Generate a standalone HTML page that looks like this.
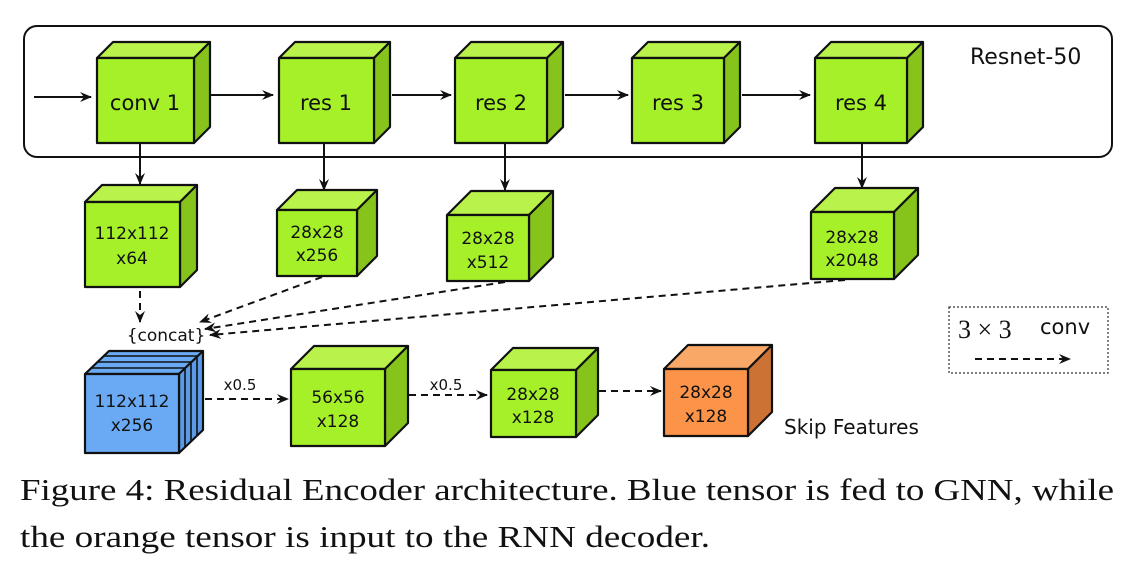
<!DOCTYPE html>
<html><head><meta charset="utf-8"><style>
html,body{margin:0;padding:0;background:#fff;}
svg{display:block}
.s{font-family:"DejaVu Sans","Liberation Sans",sans-serif;fill:#111}
</style></head><body>
<svg width="1140" height="570" viewBox="0 0 1140 570" xmlns="http://www.w3.org/2000/svg">
<defs>
<marker id="a" markerWidth="12" markerHeight="10" refX="11" refY="5" orient="auto" markerUnits="userSpaceOnUse">
<path d="M0,0 L12,5 L0,10 L4,5 Z" fill="#111"/></marker>
</defs>
<rect x="24" y="26" width="1088" height="131" rx="13" fill="none" stroke="#111" stroke-width="2"/>
<g stroke="#111" stroke-width="2" fill="none">
<line x1="34" y1="97" x2="91" y2="97" marker-end="url(#a)"/>
<line x1="211" y1="95" x2="273" y2="95" marker-end="url(#a)"/>
<line x1="392" y1="95" x2="451" y2="95" marker-end="url(#a)"/>
<line x1="565" y1="95" x2="628" y2="95" marker-end="url(#a)"/>
<line x1="742" y1="95" x2="810" y2="95" marker-end="url(#a)"/>
<line x1="140" y1="143" x2="140" y2="184" marker-end="url(#a)"/>
<line x1="324" y1="143" x2="324" y2="190" marker-end="url(#a)"/>
<line x1="505" y1="143" x2="505" y2="190" marker-end="url(#a)"/>
<line x1="862" y1="143" x2="862" y2="188" marker-end="url(#a)"/>
</g>
<g stroke="#111" stroke-width="2" fill="none" stroke-dasharray="7,5">
<line x1="140" y1="291" x2="140" y2="322" marker-end="url(#a)"/>
<line x1="322" y1="277" x2="200" y2="322" marker-end="url(#a)"/>
<line x1="505" y1="282" x2="205" y2="329" marker-end="url(#a)"/>
<line x1="845" y1="280" x2="210" y2="335" marker-end="url(#a)"/>
<line x1="205" y1="399" x2="288" y2="399" marker-end="url(#a)"/>
<line x1="409" y1="395" x2="487" y2="395" marker-end="url(#a)"/>
<line x1="599" y1="391" x2="661" y2="391" marker-end="url(#a)"/>
<line x1="975" y1="359" x2="1070" y2="359" marker-end="url(#a)"/>
</g>
<rect x="949" y="307" width="159" height="66" fill="none" stroke="#333" stroke-width="1.2" stroke-dasharray="2,2"/>

<g stroke="#111" stroke-width="2.2" stroke-linejoin="round">
<polygon points="97,58 113,42 210,42 194,58" fill="#b8f24a"/><polygon points="194,58 210,42 210,127 194,143" fill="#86c41c"/><rect x="97" y="58" width="97" height="85" fill="#a6f02a"/>
<polygon points="279,58 295,42 390,42 374,58" fill="#b8f24a"/><polygon points="374,58 390,42 390,127 374,143" fill="#86c41c"/><rect x="279" y="58" width="95" height="85" fill="#a6f02a"/>
<polygon points="455,58 471,42 563,42 547,58" fill="#b8f24a"/><polygon points="547,58 563,42 563,127 547,143" fill="#86c41c"/><rect x="455" y="58" width="92" height="85" fill="#a6f02a"/>
<polygon points="632,58 648,42 740,42 724,58" fill="#b8f24a"/><polygon points="724,58 740,42 740,127 724,143" fill="#86c41c"/><rect x="632" y="58" width="92" height="85" fill="#a6f02a"/>
<polygon points="815,58 831,42 923,42 907,58" fill="#b8f24a"/><polygon points="907,58 923,42 923,127 907,143" fill="#86c41c"/><rect x="815" y="58" width="92" height="85" fill="#a6f02a"/>
<polygon points="85,202 102,185 197,185 180,202" fill="#b8f24a"/><polygon points="180,202 197,185 197,270 180,287" fill="#86c41c"/><rect x="85" y="202" width="95" height="85" fill="#a6f02a"/>
<polygon points="277,210 297,190 377,190 357,210" fill="#b8f24a"/><polygon points="357,210 377,190 377,256 357,276" fill="#86c41c"/><rect x="277" y="210" width="80" height="66" fill="#a6f02a"/>
<polygon points="447,215 471,191 553,191 529,215" fill="#b8f24a"/><polygon points="529,215 553,191 553,257 529,281" fill="#86c41c"/><rect x="447" y="215" width="82" height="66" fill="#a6f02a"/>
<polygon points="811,212 835,188 918,188 894,212" fill="#b8f24a"/><polygon points="894,212 918,188 918,255 894,279" fill="#86c41c"/><rect x="811" y="212" width="83" height="67" fill="#a6f02a"/>
<!-- blue sliced cube -->
<polygon points="85,374 109,351 203,351 179,374" fill="#6aaaf4"/>
<polygon points="179,374 203,351 203,430 179,453" fill="#5a9ae6"/>
<rect x="85" y="374" width="94" height="79" fill="#6aaaf4"/>
</g>
<g stroke="#111" stroke-width="1.6">
<line x1="91" y1="368" x2="185" y2="368"/><line x1="185" y1="368" x2="185" y2="447"/>
<line x1="97" y1="362" x2="191" y2="362"/><line x1="191" y1="362" x2="191" y2="441"/>
<line x1="103" y1="356" x2="197" y2="356"/><line x1="197" y1="356" x2="197" y2="435"/>
</g>
<g stroke="#111" stroke-width="2.2" stroke-linejoin="round">
<polygon points="291,369 314,346 408,346 385,369" fill="#b8f24a"/><polygon points="385,369 408,346 408,423 385,446" fill="#86c41c"/><rect x="291" y="369" width="94" height="77" fill="#a6f02a"/>
<polygon points="491,370 513,348 598,348 576,370" fill="#b8f24a"/><polygon points="576,370 598,348 598,415 576,437" fill="#86c41c"/><rect x="491" y="370" width="85" height="67" fill="#a6f02a"/>
<polygon points="664,369 688,345 772,345 748,369" fill="#f9a868"/><polygon points="748,369 772,345 772,412 748,436" fill="#cc7235"/><rect x="664" y="369" width="84" height="67" fill="#fb9348"/>
</g>

<g class="s" text-anchor="middle">
<text x="145" y="110" font-size="21">conv 1</text>
<text x="326" y="110" font-size="21">res 1</text>
<text x="501" y="110" font-size="21">res 2</text>
<text x="678" y="110" font-size="21">res 3</text>
<text x="861" y="110" font-size="21">res 4</text>
<g font-size="17">
<text x="132" y="239">112x112</text><text x="132" y="264">x64</text>
<text x="317" y="238">28x28</text><text x="317" y="261">x256</text>
<text x="488" y="244">28x28</text><text x="488" y="268">x512</text>
<text x="852" y="243">28x28</text><text x="852" y="266">x2048</text>
<text x="132" y="407">112x112</text><text x="132" y="431">x256</text>
<text x="338" y="403">56x56</text><text x="338" y="427">x128</text>
<text x="533" y="400">28x28</text><text x="533" y="423">x128</text>
<text x="706" y="398">28x28</text><text x="706" y="422">x128</text>
<text x="166" y="341">{concat}</text>
</g>
<text x="240" y="390" font-size="15">x0.5</text>
<text x="446" y="390" font-size="15">x0.5</text>
</g>
<text class="s" x="970" y="64" font-size="22">Resnet-50</text>
<text class="s" x="784" y="434" font-size="20">Skip Features</text>
<text x="958" y="338" font-size="26" font-family="Liberation Serif,serif" fill="#111">3 × 3</text>
<text class="s" x="1040" y="334" font-size="21">conv</text>
<g font-family="Liberation Serif,serif" font-size="31" fill="#111">
<text x="20" y="500" textLength="1094" lengthAdjust="spacingAndGlyphs">Figure 4: Residual Encoder architecture. Blue tensor is fed to GNN, while</text>
<text x="20" y="547" textLength="690" lengthAdjust="spacingAndGlyphs">the orange tensor is input to the RNN decoder.</text>
</g>
</svg>
</body></html>
